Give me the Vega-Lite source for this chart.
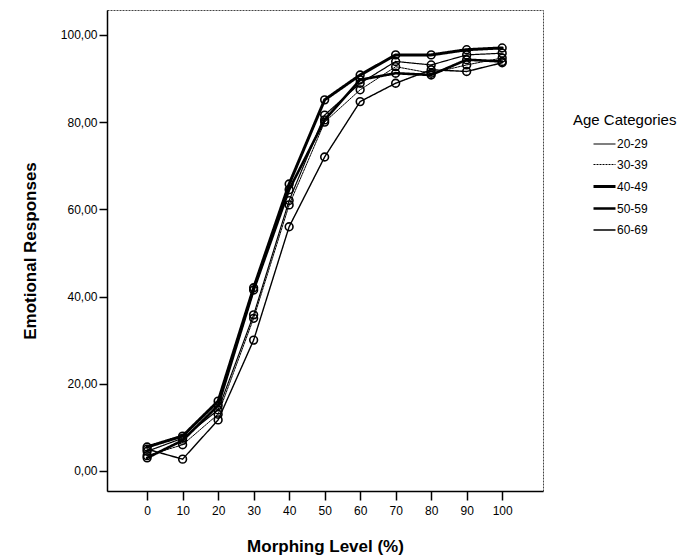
{
  "$schema": "https://vega.github.io/schema/vega-lite/v6.json",
  "autosize": "none",
  "width": 436,
  "height": 481,
  "padding": {"left": 107, "top": 10, "right": 156, "bottom": 68},
  "background": "white",
  "config": {
    "font": "Liberation Sans",
    "view": {"stroke": "#444", "strokeDash": [2, 1], "strokeWidth": 1}
  },
  "data": {
    "values": [
      {"age": "20-29", "level": 0, "resp": 4.5}, {"age": "20-29", "level": 10, "resp": 7.5}, {"age": "20-29", "level": 20, "resp": 14}, {"age": "20-29", "level": 30, "resp": 35.8}, {"age": "20-29", "level": 40, "resp": 62}, {"age": "20-29", "level": 50, "resp": 81.6}, {"age": "20-29", "level": 60, "resp": 88.9}, {"age": "20-29", "level": 70, "resp": 93.9}, {"age": "20-29", "level": 80, "resp": 93.1}, {"age": "20-29", "level": 90, "resp": 95.4}, {"age": "20-29", "level": 100, "resp": 95.8},
      {"age": "30-39", "level": 0, "resp": 3.5}, {"age": "30-39", "level": 10, "resp": 6}, {"age": "30-39", "level": 20, "resp": 13}, {"age": "30-39", "level": 30, "resp": 35}, {"age": "30-39", "level": 40, "resp": 61}, {"age": "30-39", "level": 50, "resp": 80}, {"age": "30-39", "level": 60, "resp": 87.4}, {"age": "30-39", "level": 70, "resp": 92.7}, {"age": "30-39", "level": 80, "resp": 91.2}, {"age": "30-39", "level": 90, "resp": 93.1}, {"age": "30-39", "level": 100, "resp": 94.7},
      {"age": "40-49", "level": 0, "resp": 5.5}, {"age": "40-49", "level": 10, "resp": 8}, {"age": "40-49", "level": 20, "resp": 16}, {"age": "40-49", "level": 30, "resp": 42}, {"age": "40-49", "level": 40, "resp": 65.8}, {"age": "40-49", "level": 50, "resp": 85.1}, {"age": "40-49", "level": 60, "resp": 90.8}, {"age": "40-49", "level": 70, "resp": 95.4}, {"age": "40-49", "level": 80, "resp": 95.4}, {"age": "40-49", "level": 90, "resp": 96.6}, {"age": "40-49", "level": 100, "resp": 97},
      {"age": "50-59", "level": 0, "resp": 3}, {"age": "50-59", "level": 10, "resp": 7}, {"age": "50-59", "level": 20, "resp": 15}, {"age": "50-59", "level": 30, "resp": 41.5}, {"age": "50-59", "level": 40, "resp": 64.5}, {"age": "50-59", "level": 50, "resp": 80.5}, {"age": "50-59", "level": 60, "resp": 89.7}, {"age": "50-59", "level": 70, "resp": 91.2}, {"age": "50-59", "level": 80, "resp": 90.8}, {"age": "50-59", "level": 90, "resp": 94.3}, {"age": "50-59", "level": 100, "resp": 93.9},
      {"age": "60-69", "level": 0, "resp": 5}, {"age": "60-69", "level": 10, "resp": 2.7}, {"age": "60-69", "level": 20, "resp": 11.7}, {"age": "60-69", "level": 30, "resp": 30}, {"age": "60-69", "level": 40, "resp": 56}, {"age": "60-69", "level": 50, "resp": 72}, {"age": "60-69", "level": 60, "resp": 84.7}, {"age": "60-69", "level": 70, "resp": 88.9}, {"age": "60-69", "level": 80, "resp": 92}, {"age": "60-69", "level": 90, "resp": 91.6}, {"age": "60-69", "level": 100, "resp": 93.6}
    ]
  },
  "encoding": {
    "x": {
      "field": "level", "type": "quantitative",
      "scale": {"domain": [-11.3, 111.5], "nice": false, "zero": false},
      "axis": {
        "title": "Morphing Level (%)", "values": [0, 10, 20, 30, 40, 50, 60, 70, 80, 90, 100],
        "grid": false, "domainColor": "black", "domainWidth": 1.5, "tickColor": "black", "tickWidth": 1.5, "tickSize": 9,
        "labelFontSize": 12, "labelColor": "black", "labelPadding": 5, "labelFlush": false,
        "titleFontSize": 17, "titleFontWeight": "bold", "titleColor": "black", "titlePadding": 22
      }
    },
    "y": {
      "field": "resp", "type": "quantitative",
      "scale": {"domain": [-4.6, 105.7], "nice": false, "zero": false},
      "axis": {
        "title": "Emotional Responses", "values": [0, 20, 40, 60, 80, 100],
        "labelExpr": "replace(format(datum.value, '.2f'), '.', ',')",
        "grid": false, "domainColor": "black", "domainWidth": 1.5, "tickColor": "black", "tickWidth": 1.5, "tickSize": 8,
        "labelFontSize": 12, "labelColor": "black", "labelPadding": 2, "labelFlush": false,
        "titleFontSize": 17, "titleFontWeight": "bold", "titleColor": "black", "titlePadding": 21
      }
    }
  },
  "layer": [
    {
      "mark": {"type": "line", "strokeCap": "round"},
      "encoding": {
        "color": {"field": "age", "type": "ordinal", "scale": {"type": "ordinal", "range": ["black", "black", "black", "black", "black"]}, "title": "Age Categories",
          "legend": {"orient": "none", "legendX": 466, "legendY": 103, "symbolType": "stroke", "symbolSize": 484, "labelFontSize": 12, "labelColor": "black", "labelOffset": 0, "titleFontSize": 15, "titleFontWeight": "normal", "titleColor": "black", "titlePadding": 4, "rowPadding": 3, "padding": 0, "offset": 0, "titleLimit": 200, "symbolOffset": 19}},
        "strokeDash": {"field": "age", "type": "ordinal", "scale": {"type": "ordinal", "range": [[1, 0], [2, 1], [1, 0], [1, 0], [1, 0]]}, "title": "Age Categories"},
        "strokeWidth": {"field": "age", "type": "ordinal", "scale": {"type": "ordinal", "range": [1.2, 1, 3, 2.6, 1.4]}, "title": "Age Categories"}
      }
    },
    {
      "mark": {"type": "point", "shape": "circle", "filled": false, "size": 60, "color": "black", "opacity": 1, "strokeWidth": 1.6},
      "encoding": {
        "detail": {"field": "age", "type": "nominal"}
      }
    }
  ]
}
